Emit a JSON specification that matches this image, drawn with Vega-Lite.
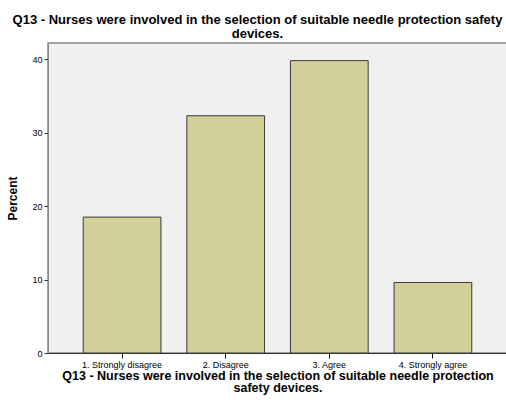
{
  "$schema": "https://vega.github.io/schema/vega-lite/v6.json",
  "width": 459,
  "height": 310,
  "autosize": {"type": "none"},
  "padding": {"left": 48, "top": 43, "right": 0, "bottom": 49},
  "background": "white",
  "title": {
    "text": ["Q13 - Nurses were involved in the selection of suitable needle protection safety", "devices."],
    "font": "Liberation Sans",
    "fontSize": 13,
    "fontWeight": "bold",
    "color": "#000000",
    "anchor": "middle",
    "frame": "group",
    "dx": -20,
    "offset": 2,
    "lineHeight": 14
  },
  "data": {
    "values": [
      {"category": "1. Strongly disagree", "percent": 18.5},
      {"category": "2. Disagree", "percent": 32.3},
      {"category": "3. Agree", "percent": 39.8},
      {"category": "4. Strongly agree", "percent": 9.6}
    ]
  },
  "mark": {"type": "bar", "fill": "#d3cf98", "stroke": "#3a3a3a", "strokeWidth": 1},
  "encoding": {
    "x": {
      "field": "category",
      "type": "nominal",
      "sort": null,
      "scale": {"paddingInner": 0.25, "paddingOuter": 0.34},
      "axis": {
        "title": ["Q13 - Nurses were involved in the selection of suitable needle protection", "safety devices."],
        "titleFont": "Liberation Sans",
        "titleFontSize": 12.5,
        "titleFontWeight": "bold",
        "titleColor": "#000000",
        "titlePadding": 0,
        "titleLineHeight": 12.5,
        "labelAngle": 0,
        "labelFont": "Liberation Sans",
        "labelFontSize": 9,
        "labelColor": "#000000",
        "labelPadding": 2,
        "tickSize": 5,
        "tickColor": "#000000",
        "domainColor": "#333333",
        "grid": false
      }
    },
    "y": {
      "field": "percent",
      "type": "quantitative",
      "scale": {"domain": [0, 42.2], "nice": false, "zero": true},
      "axis": {
        "title": "Percent",
        "titleFont": "Liberation Sans",
        "titleFontSize": 12,
        "titleFontWeight": "bold",
        "titleColor": "#000000",
        "titlePadding": 12,
        "values": [0, 10, 20, 30, 40],
        "labelFont": "Liberation Sans",
        "labelFontSize": 9,
        "labelColor": "#000000",
        "labelPadding": 2,
        "tickSize": 4,
        "tickColor": "#333333",
        "domainColor": "#888888",
        "grid": false
      }
    }
  },
  "config": {
    "view": {"fill": "#f0f0f0", "stroke": "#888888", "strokeWidth": 1.5}
  }
}
